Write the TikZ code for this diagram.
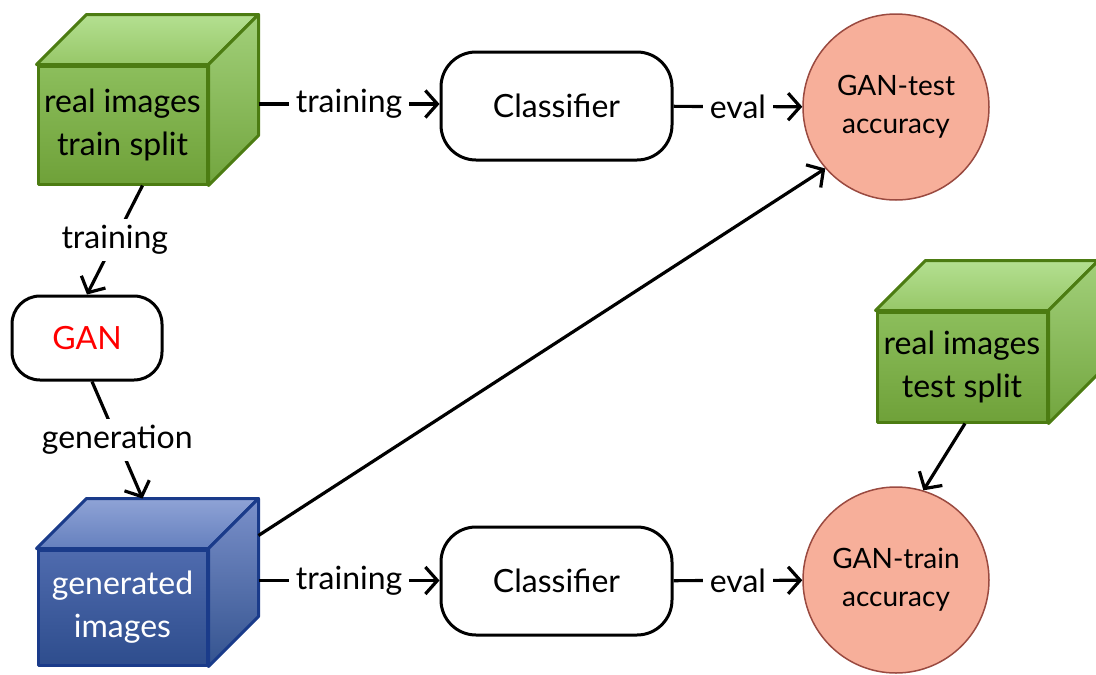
\documentclass[tikz,border=0pt]{standalone}
\usepackage{fontspec}
\setmainfont{Lato}
\usetikzlibrary{arrows.meta,calc}
\definecolor{gborder}{HTML}{4C7C12}
\definecolor{bborder}{HTML}{1A3B8A}
\definecolor{accfill}{HTML}{F7AF9A}
\definecolor{accborder}{HTML}{9A4A40}
\definecolor{gA}{HTML}{8CBE5C}
\definecolor{gB}{HTML}{6FA139}
\definecolor{gC}{HTML}{B4E091}
\definecolor{gD}{HTML}{97C768}
\definecolor{gE}{HTML}{A2D07A}
\definecolor{gF}{HTML}{72A53E}
\definecolor{bA}{HTML}{4F6BAE}
\definecolor{bB}{HTML}{2E4D8D}
\definecolor{bC}{HTML}{8FA3D6}
\definecolor{bD}{HTML}{6580BE}
\definecolor{bE}{HTML}{7A90CA}
\definecolor{bF}{HTML}{34538F}
\newcommand{\mycubefaces}[2]{%
  \path[#2top] (#1.north west) -- ($(#1.north west)+(50,-50)$) -- ($(#1.north east)+(50,-50)$) -- (#1.north east) -- cycle;
  \path[#2side] (#1.north east) -- ($(#1.north east)+(50,-50)$) -- ($(#1.south east)+(50,-50)$) -- (#1.south east) -- cycle;
}
\begin{document}
\begin{tikzpicture}[x=1pt,y=-1pt,
  every node/.style={font=\fontsize{32}{43}\selectfont},
  arr/.style={line width=3.2pt,-{Straight Barb[length=12pt,width=27pt]}},
  lbl/.style={fill=white,inner xsep=7pt,inner ysep=6pt},
  clf/.style={draw,line width=3pt,fill=white,rounded corners=35pt,minimum width=231pt,minimum height=108pt},
  acc/.style={circle,draw=accborder,line width=1.5pt,fill=accfill,minimum size=186pt,inner sep=0pt,align=center,font=\fontsize{28}{38}\selectfont},
  cubebase/.style={line width=3pt,line join=round,inner sep=0pt,align=center},
  gfront/.style={cubebase,draw=gborder,top color=gA,bottom color=gB},
  gtop/.style={cubebase,draw=gborder,top color=gC,bottom color=gD},
  gside/.style={cubebase,draw=gborder,top color=gE,bottom color=gF},
  bfront/.style={cubebase,draw=bborder,top color=bA,bottom color=bB,text=white},
  btop/.style={cubebase,draw=bborder,top color=bC,bottom color=bD},
  bside/.style={cubebase,draw=bborder,top color=bE,bottom color=bF},
]
\useasboundingbox (0,0) rectangle (1096,675);

% cubes
\node[gfront,minimum width=169pt,minimum height=118pt] (rtrain) at (122.5,125) {real images\\train split};
\mycubefaces{rtrain}{g}
\node[bfront,minimum width=169pt,minimum height=115pt] (gen) at (122.5,607.5) {generated\\images};
\mycubefaces{gen}{b}
\node[gfront,minimum width=170pt,minimum height=110pt] (rtest) at (962,367) {real images\\test split};
\mycubefaces{rtest}{g}

% boxes
\node[clf] (clf1) at (556.5,106) {Classifier};
\node[clf] (clf2) at (556.5,581) {Classifier};
\node[clf,minimum width=150pt,minimum height=84pt,rounded corners=28pt,text=red] (gan) at (87,338) {GAN};

% accuracy circles
\node[acc] (gantest) at (896,107) {GAN-test\\accuracy};
\node[acc] (gantrain) at (896,580) {GAN-train\\accuracy};

% coordinates
\coordinate (rtR) at ($(rtrain.east)+(50,-21)$);
\coordinate (rtB) at ($(rtrain.south)+(20,0)$);
\coordinate (genT) at ($(gen.north)+(20,-50)$);
\coordinate (genR1) at ($(gen.north east)+(50,-13)$);
\coordinate (genR2) at ($(gen.east)+(50,-27)$);
\coordinate (testB) at ($(rtest.south)+(3,0)$);

% connectors
\draw[arr] (rtR) -- node[lbl]{training} (rtR -| clf1.west);
\draw[arr] (clf1) -- node[lbl]{eval} (gantest);
\draw[arr] (rtB) -- node[lbl]{training} (gan.north);
\draw[arr] ($(gan.south)+(5,0)$) -- node[lbl]{generation} (genT);
\draw[arr] (genR1) -- (gantest.221);
\draw[arr] (genR2) -- node[lbl]{training} (genR2 -| clf2.west);
\draw[arr] (clf2) -- node[lbl]{eval} (gantrain);
\draw[arr] (testB) -- (gantrain.73);
\end{tikzpicture}
\end{document}
